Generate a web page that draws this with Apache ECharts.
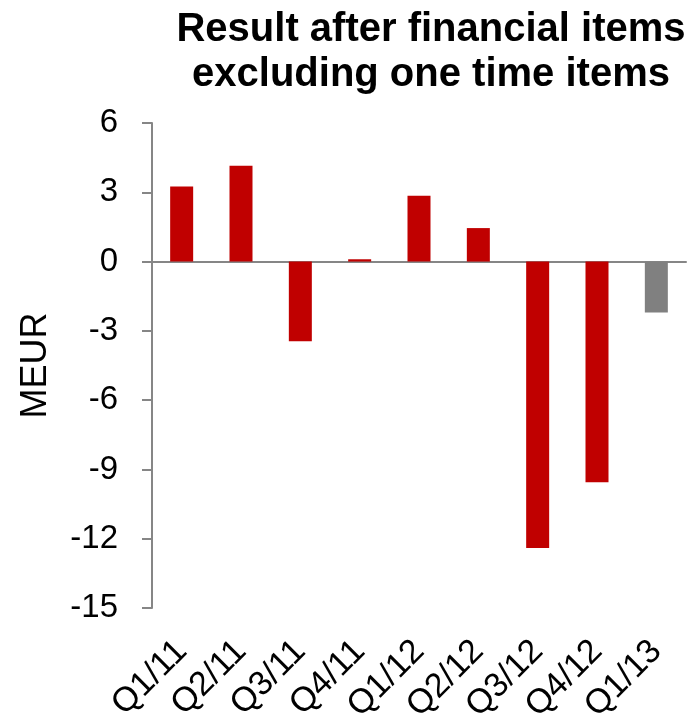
<!DOCTYPE html>
<html>
<head>
<meta charset="utf-8">
<script src="https://cdn.jsdelivr.net/npm/echarts@6/dist/echarts.min.js"></script>
<style>
  html, body { margin: 0; padding: 0; background: #fff; }
  #chart { width: 689px; height: 726px; }
</style>
</head>
<body>
<div id="chart"></div>
<script>
// Result after financial items excl. one time items, MEUR per quarter
const quarters = ['Q1/11','Q2/11','Q3/11','Q4/11','Q1/12','Q2/12','Q3/12','Q4/12','Q1/13'];
const results = [3.25, 4.15, -3.45, 0.1, 2.85, 1.45, -12.4, -9.55, -2.2];
const yTicks = { min: -15, max: 6, step: 3 };

(function(){
  const el = document.getElementById('chart');
  const chart = echarts.init(el);
  const font = 'Liberation Sans, Arial, sans-serif';
  const axisGray = '#868686';
  const lastIdx = results.length - 1;

  chart.setOption({
    backgroundColor: '#fff',
    animation: false,
    textStyle: { fontFamily: font, color: '#000' },
    title: {
      text: 'Result after financial items\nexcluding one time items',
      left: 426, top: 2, textAlign: 'center',
      textStyle: { fontFamily: font, fontSize: 40, fontWeight: 'bold', color: '#000', lineHeight: 45 }
    },
    grid: { left: 152, right: 3, top: 123, bottom: 118 },
    xAxis: [
      {
        type: 'category', data: quarters, position: 'bottom',
        axisLine: { show: false, onZero: false },
        axisTick: { show: false },
        axisLabel: { rotate: 45, margin: 38, fontSize: 34, color: '#000', fontFamily: font, interval: 0 }
      },
      {
        type: 'category', data: quarters, position: 'top',
        axisLine: { onZero: true, lineStyle: { color: axisGray, width: 2 } },
        axisTick: { inside: true, length: 10, lineStyle: { color: axisGray, width: 2 } },
        axisLabel: { show: false }
      }
    ],
    yAxis: {
      type: 'value', min: yTicks.min, max: yTicks.max, interval: yTicks.step,
      name: 'MEUR', nameLocation: 'middle', nameRotate: 90, nameGap: 98,
      nameTextStyle: { fontSize: 36, color: '#000', fontFamily: font },
      axisLine: { show: true, lineStyle: { color: axisGray, width: 2 } },
      axisTick: { show: true, length: 10, lineStyle: { color: axisGray, width: 2 } },
      axisLabel: { margin: 34, fontSize: 33, color: '#000', fontFamily: font },
      splitLine: { show: false }
    },
    series: [{
      type: 'bar',
      xAxisIndex: 0,
      data: results,
      barWidth: 23,
      itemStyle: {
        color: function(p){ return p.dataIndex === lastIdx ? '#808080' : '#C00000'; }
      }
    }]
  });
})();
</script>
</body>
</html>
